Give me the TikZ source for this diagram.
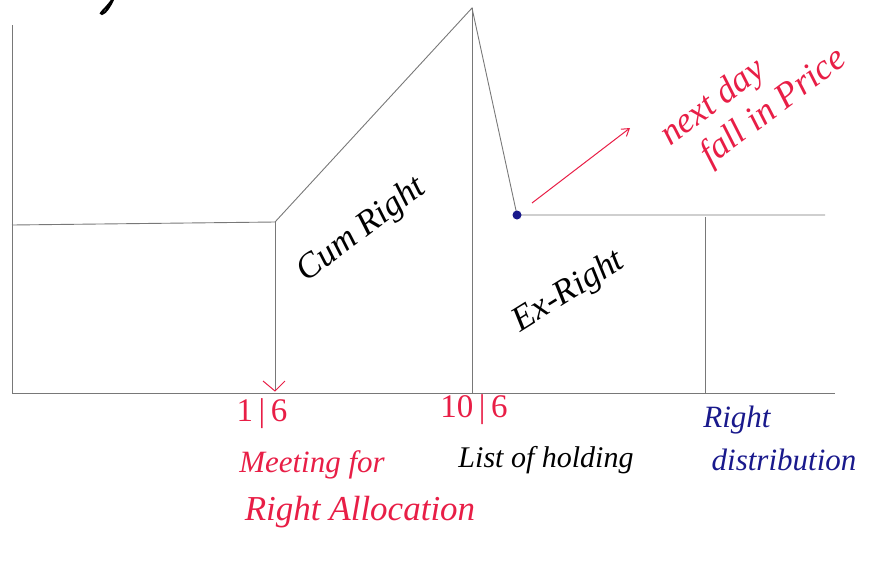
\documentclass[tikz,border=0pt]{standalone}
\usepackage{fontspec}
\setmainfont{Liberation Serif}
\usetikzlibrary{arrows.meta}
\definecolor{pen}{RGB}{120,120,120}
\definecolor{redink}{RGB}{232,30,70}
\definecolor{blueink}{RGB}{25,25,140}
\begin{document}
\begin{tikzpicture}[x=1pt,y=-1pt,
  axis/.style={draw=pen,line width=0.9pt},
  lbl/.style={inner sep=0pt,font=\itshape},
  redlbl/.style={lbl,text=redink},
  bluelbl/.style={lbl,text=blueink},
  blacklbl/.style={lbl,text=black}]
\useasboundingbox (0,0) rectangle (884,571);
% key points
\coordinate (ytop) at (12,25);
\coordinate (orig) at (12,393);
\coordinate (xend) at (835,393);
\coordinate (p0) at (12,225);
\coordinate (p1) at (275,222);
\coordinate (p1b) at (275,391);
\coordinate (peak) at (472,8);
\coordinate (peakb) at (472,393);
\coordinate (exd) at (517,215);
\coordinate (exe) at (825,215);
\coordinate (dtop) at (705,217);
\coordinate (dbot) at (705,393);
% axes
\draw[axis] (ytop) -- (orig) -- (xend);
% price path
\draw[axis] (p0) -- (p1) -- (peak) -- (exd) -- (exe);
\draw[axis] (p1) -- (p1b);
\draw[redink,line width=1pt] (263,381) -- (p1b) -- (285,381);
\draw[axis] (peak) -- (peakb);
\draw[axis] (dtop) -- (dbot);
\fill[blueink] (exd) circle (4.5);
% red arrow
\coordinate (arS) at (532,203);
\coordinate (arE) at (630,128);
\draw[redink,line width=1pt,-{Straight Barb[length=7pt,width=9pt]}] (arS) -- (arE);
% fragment at top
\draw[black,line width=2pt,line cap=round] (112,0) .. controls (105,10) and (98,14) .. (102,14) .. controls (106,13) and (110,6) .. (113,0);
% texts
\node[redlbl,rotate=37,align=left,font=\itshape\fontsize{36}{40}\selectfont] (nd) at (754,98) {next day\\\hspace*{20pt}fall in Price};
\node[blacklbl,rotate=37,font=\itshape\fontsize{35}{38}\selectfont] (cum) at (362,230) {Cum Right};
\node[blacklbl,rotate=32,font=\itshape\fontsize{35}{38}\selectfont] (ex) at (569,292) {Ex-Right};
\node[redlbl,font=\fontsize{33}{36}\selectfont] (d1) at (262,414) {1\,|\,6};
\node[redlbl,font=\fontsize{33}{36}\selectfont] (d2) at (474,410) {10\,|\,6};
\node[redlbl,font=\itshape\fontsize{31}{34}\selectfont] (meet) at (312,465) {Meeting for};
\node[redlbl,font=\itshape\fontsize{35}{38}\selectfont] (alloc) at (360,512) {Right Allocation};
\node[blacklbl,font=\itshape\fontsize{30}{32}\selectfont] (list) at (546,460) {List of holding};
\node[bluelbl,font=\itshape\fontsize{31}{33}\selectfont] (rt) at (737,420) {Right};
\node[bluelbl,font=\itshape\fontsize{31}{33}\selectfont] (dist) at (784,460) {distribution};
\end{tikzpicture}
\end{document}
